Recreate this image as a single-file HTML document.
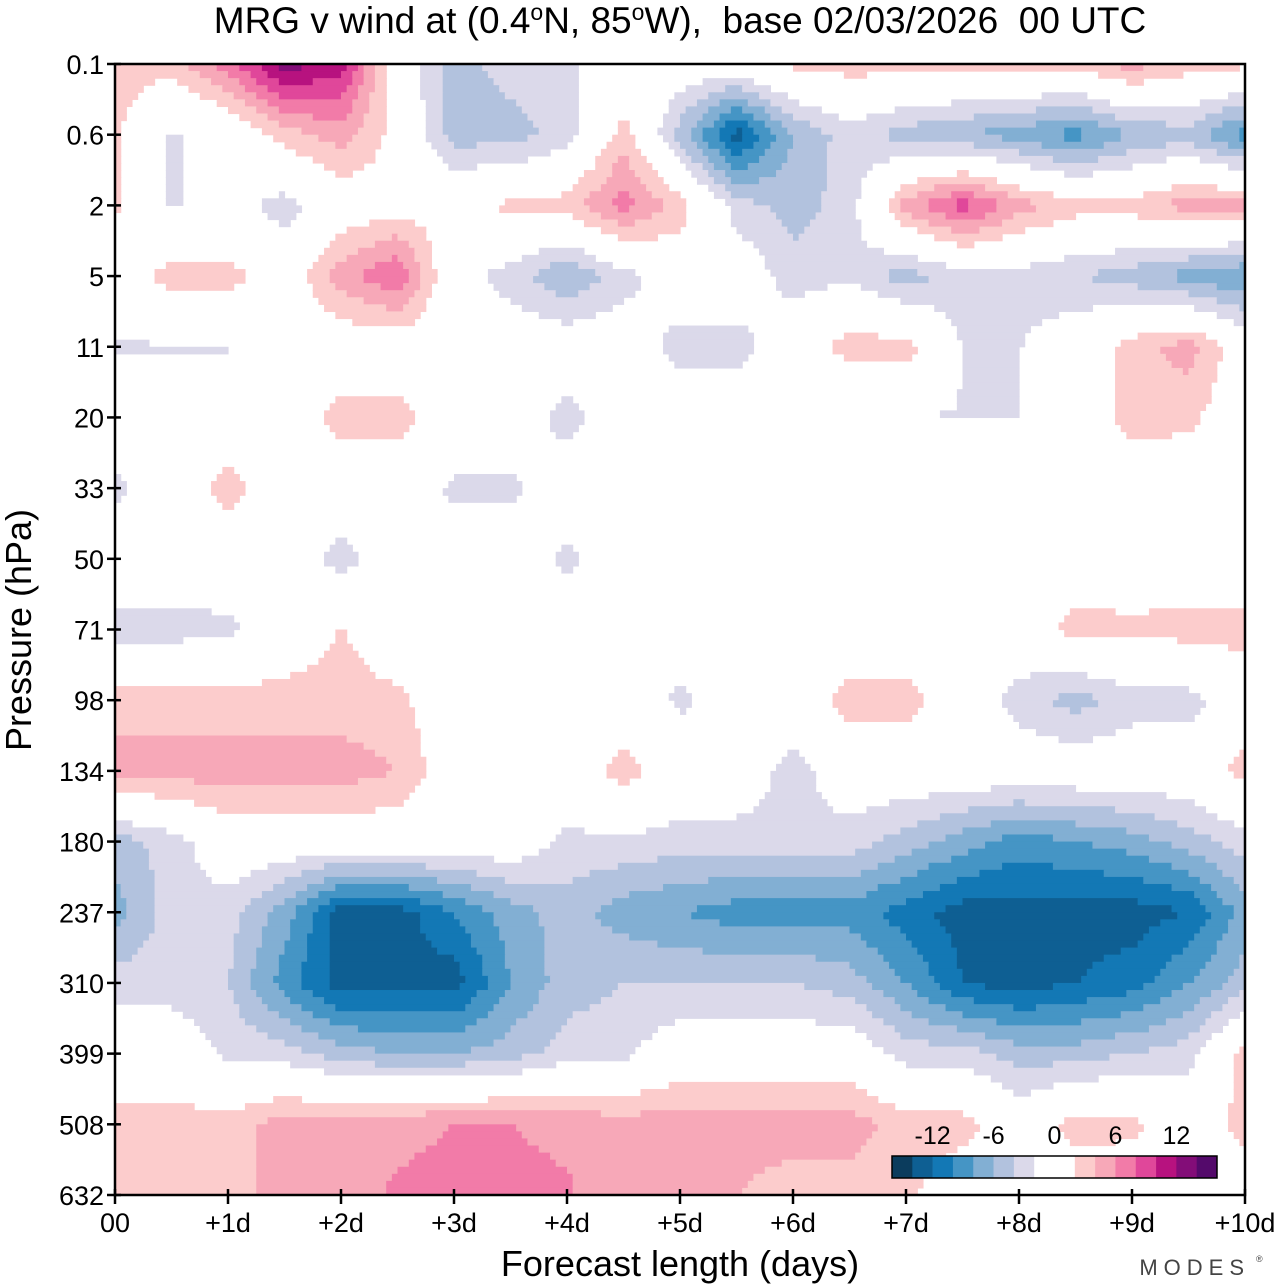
<!DOCTYPE html>
<html><head><meta charset="utf-8">
<style>
html,body{margin:0;padding:0;background:#fff;}
svg{display:block;font-family:"Liberation Sans",Arial,sans-serif;}
</style></head>
<body>
<svg id="chart" width="1280" height="1286" viewBox="0 0 1280 1286">
<text x="680" y="33" font-size="37" text-anchor="middle">MRG v wind at (0.4<tspan dy="-13" font-size="23">o</tspan><tspan dy="13">N, 85</tspan><tspan dy="-13" font-size="23">o</tspan><tspan dy="13">W),&#160;&#160;base 02/03/2026&#160;&#160;00 UTC</tspan></text>
<g id="field"></g>
<rect x="115" y="64" width="1130" height="1131" fill="none" stroke="#000" stroke-width="2.5"/>
<g id="axes"></g>
<text x="0" y="0" transform="translate(31,630) rotate(-90)" font-size="36" text-anchor="middle">Pressure (hPa)</text>
<text x="680" y="1276" font-size="36" text-anchor="middle">Forecast length (days)</text>
<text x="1250" y="1275" font-size="22" fill="#444" text-anchor="end" letter-spacing="6">MODES</text>
<text x="1256" y="1262" font-size="9" fill="#444">®</text>
<g id="cbar"></g>
</svg>
<script>
const days=[0,0.5,1,1.5,2,2.5,3,3.5,4,4.5,5,5.5,6,6.5,7,7.5,8,8.5,9,9.5,10];
const levels=["0.1","0.6","2","5","11","20","33","50","71","98","134","180","237","310","399","508","632"];
const xTicks=["00","+1d","+2d","+3d","+4d","+5d","+6d","+7d","+8d","+9d","+10d"];
const cbarLabels=[-12,-6,0,6,12];
const binColors=["#0b3c5d","#0e5f93","#1378b5","#4595c5","#82afd3","#b2c2de","#dbd9ea","#ffffff","#ffffff","#fccccc","#f7a8b8","#f27ba8","#e0479a","#b7127f","#830d78","#540a6b"];
const r0=[3,3,7,13,11,0,-5,-3,-2.5,0,0,0,2.5,3,3,2.5,2.5,3,5,3,2.5];
const r1=[2.5,-2.3,-1,3,5,1,-5,-5,-3,3,-5,-13,-6,-3,-5,-6,-7,-9,-6,-5,-9];
const r2=[2.5,-2.3,-1,-3,0,1,1,2.5,3,7,3,-3,-5,-3,5,9,5,3,3,5,5];
const r3=[0,3,3,0,5,8,-1,-3,-6,-3,0,0,-3,-2.5,-5,-3,-3,-4,-5,-7,-8];
const r4=[-2.2,-2.2,-2.2,0,0,0,0,0,0,0,-3,-3,0,3,3,-2.1,-2.1,0,3,5,0];
const r5=[0,0,0,0,3,3,0,0,-3,0,0,0,-2.1,-2.1,-2.1,-2.1,-2.1,0,3,2.5,0];
const r6=[-2.5,0,3,0,0,0,-2.5,-2.5,0,0,0,0,0,0,0,0,0,0,0,0,0];
const r7=[0,0,0,0,-3,0,0,0,-2.5,0,0,0,0,0,0,0,0,0,0,0,0];
const r8=[-3,-3,-2.5,0,2.1,0,0,0,0,0,0,0,0,0,0,-2.2,0,3,2.5,3,3];
const r9=[3,3,3,3,3,2.5,0,0,0,0,-2.5,0,0,3,3,0,-3,-5,-3,-3,0];
const r10=[5,5,5,5,5,4,0,0,0,3,0,0,-3,0,0,0,0,0,0,0,3];
const r11=[-5,-3,0,0,0,0,0,0,-2.5,-2.5,-3,-3,-3,-3,-5,-7,-9,-8,-7,-5,-3];
const r12=[-7,-3,-3,-7,-13,-13,-10,-7,-5,-7,-8,-9,-9,-9,-11,-13,-13,-13,-13,-12,-7];
const r13=[-3,-3,-4,-9,-13,-13,-13,-8,-5,-4,-4,-4,-4,-5,-8,-12,-13,-12,-11,-8,-5];
const r14=[0,0,-2.5,-3,-5,-6,-6,-5,-3,-2.5,0,0,0,0,-3,-3,-5,-5,-4,-3,3];
const r15=[3,3,3,5,5,5.5,6,6,5.5,5,5,5,5,5,3,3,0,3,2.5,0,3];
const r16=[3,2.5,3,5,5,6.3,6.6,6.6,6.3,4,4,4,3,3,2.5,0,0,0,0,0,0];
const rows=[r0,r1,r2,r3,r4,r5,r6,r7,r8,r9,r10,r11,r12,r13,r14,r15,r16];

const NS="http://www.w3.org/2000/svg";
const X0=115,X1=1245,Y0=64,Y1=1195;
function xScale(d){return X0+(X1-X0)*d/10;}
function yScale(i){return Y0+(Y1-Y0)*i/(levels.length-1);}
function bin(v){let b=Math.floor(v/2)+8;return Math.max(0,Math.min(15,b));}

const field=document.getElementById('field');
const SUB=10;
for(let i=0;i<rows.length-1;i++){
  for(let sy=0;sy<SUB;sy++){
    const ty=(sy+0.5)/SUB;
    const ya=yScale(i+sy/SUB), yb=yScale(i+(sy+1)/SUB);
    const cols=[];
    for(let j=0;j<days.length-1;j++){
      for(let sx=0;sx<SUB;sx++){
        const tx=(sx+0.5)/SUB;
        const v=(1-ty)*((1-tx)*rows[i][j]+tx*rows[i][j+1])+ty*((1-tx)*rows[i+1][j]+tx*rows[i+1][j+1]);
        cols.push({x0:xScale(days[j]+(days[j+1]-days[j])*sx/SUB),x1:xScale(days[j]+(days[j+1]-days[j])*(sx+1)/SUB),b:bin(v)});
      }
    }
    let k=0;
    while(k<cols.length){
      let m=k;while(m+1<cols.length&&cols[m+1].b===cols[k].b)m++;
      const b=cols[k].b;
      if(b!==7&&b!==8){
        const r=document.createElementNS(NS,'rect');
        r.setAttribute('x',cols[k].x0.toFixed(2));
        r.setAttribute('y',ya.toFixed(2));
        r.setAttribute('width',(cols[m].x1-cols[k].x0+0.6).toFixed(2));
        r.setAttribute('height',(yb-ya+0.6).toFixed(2));
        r.setAttribute('fill',binColors[b]);
        
        
        field.appendChild(r);
      }
      k=m+1;
    }
  }
}

const axes=document.getElementById('axes');
levels.forEach((l,i)=>{
  const y=yScale(i);
  const t=document.createElementNS(NS,'line');
  t.setAttribute('x1',107);t.setAttribute('x2',121);t.setAttribute('y1',y);t.setAttribute('y2',y);
  t.setAttribute('stroke','#000');t.setAttribute('stroke-width','2.5');
  
  
  axes.appendChild(t);
  const tx=document.createElementNS(NS,'text');
  tx.setAttribute('x',104);tx.setAttribute('y',y+10);tx.setAttribute('font-size','27');tx.setAttribute('text-anchor','end');
  tx.textContent=l;
  
  
  axes.appendChild(tx);
});
xTicks.forEach((l,i)=>{
  const x=xScale(i);
  const t=document.createElementNS(NS,'line');
  t.setAttribute('x1',x);t.setAttribute('x2',x);t.setAttribute('y1',1189);t.setAttribute('y2',1204);
  t.setAttribute('stroke','#000');t.setAttribute('stroke-width','2.5');
  
  
  axes.appendChild(t);
  const tx=document.createElementNS(NS,'text');
  tx.setAttribute('x',x);tx.setAttribute('y',1232);tx.setAttribute('font-size','27');tx.setAttribute('text-anchor','middle');
  tx.textContent=l;
  
  
  axes.appendChild(tx);
});

const cbar=document.getElementById('cbar');
const CX0=892,CX1=1217,CY=1156,CH=22,bw=(CX1-CX0)/binColors.length;
binColors.forEach((c,i)=>{
  const r=document.createElementNS(NS,'rect');
  r.setAttribute('x',CX0+i*bw);r.setAttribute('y',CY);r.setAttribute('width',bw+0.3);r.setAttribute('height',CH);r.setAttribute('fill',c);
  
  
  cbar.appendChild(r);
});
const fr=document.createElementNS(NS,'rect');
fr.setAttribute('x',CX0);fr.setAttribute('y',CY);fr.setAttribute('width',CX1-CX0);fr.setAttribute('height',CH);
fr.setAttribute('fill','none');fr.setAttribute('stroke','#000');fr.setAttribute('stroke-width','1.5');


cbar.appendChild(fr);
cbarLabels.forEach(v=>{
  const x=CX0+(v/2+8)*bw;
  const tx=document.createElementNS(NS,'text');
  tx.setAttribute('x',x);tx.setAttribute('y',1144);tx.setAttribute('font-size','25');tx.setAttribute('text-anchor','middle');
  tx.textContent=v;
  
  
  cbar.appendChild(tx);
});
</script>
</body></html>
